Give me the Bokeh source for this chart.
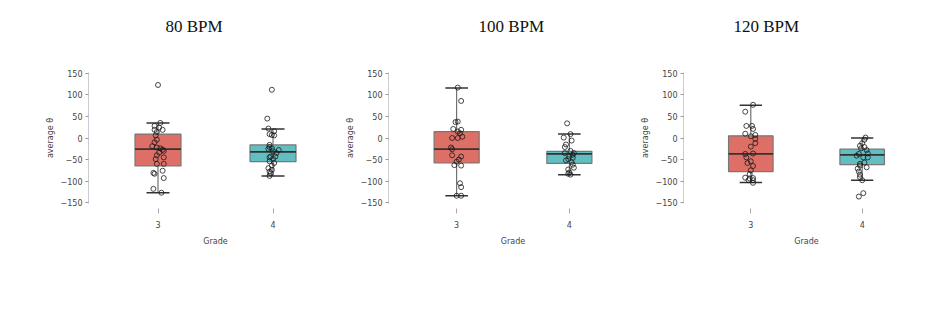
from bokeh.plotting import figure
from bokeh.layouts import row
from bokeh.models import Range1d, FixedTicker, ColumnDataSource, Title
from bokeh.embed import file_html
from bokeh.resources import INLINE

# ---------------- data ----------------
titles = ["80 BPM", "100 BPM", "120 BPM"]
grades = ["3", "4"]
yticks = [-150, -100, -50, 0, 50, 100, 150]

# box statistics [panel][grade]
box_lower = [[-127, -88], [-134, -85], [-103, -98]]
box_q1 = [[-65, -55], [-58, -59], [-78, -62]]
box_med = [[-26, -32], [-26, -37], [-37, -39]]
box_q3 = [[9, -16], [15, -31], [5, -26]]
box_upper = [[35, 21], [116, 9], [76, 0]]

# individual observations (y) and their horizontal jitter offsets (dx)
p80_g3_y = [123, 35, 28, 24, 19, 19, 14, 6, -4, -10, -19, -22, -24, -27, -30, -34, -40, -45, -49, -60, -60, -76, -81, -83, -93, -118, -127]
p80_g3_dx = [0, 0.02, -0.03, 0.01, -0.03, 0.04, -0.01, -0.02, -0.01, -0.03, -0.05, -0.01, 0.02, 0.04, 0.05, 0.01, -0.01, 0.05, -0.02, -0.01, 0.05, 0.04, -0.04, -0.03, 0.05, -0.04, 0.03]
p80_g4_y = [112, 45, 22, 16, 9, 7, 6, -16, -21, -24, -25, -28, -31, -35, -43, -43, -45, -48, -54, -58, -64, -70, -74, -78, -82, -88]
p80_g4_dx = [-0.01, -0.05, -0.04, 0.01, -0.03, -0.01, 0.01, -0.03, -0.03, -0.01, -0.04, 0.05, 0, 0.03, -0.02, 0.02, -0.03, 0, -0.03, 0.01, -0.01, -0.04, -0.01, -0.03, -0.02, -0.03]

p100_g3_y = [117, 86, 37, 38, 21, 19, 15, 11, 0, 0, 3, -22, -26, -40, -43, -50, -55, -63, -64, -105, -114, -134, -134]
p100_g3_dx = [0.01, 0.04, -0.01, 0.01, -0.03, 0.04, 0.01, 0.03, -0.04, 0.01, 0.05, -0.05, -0.04, -0.04, 0.04, 0.02, 0, -0.02, 0.04, 0.03, 0.04, 0, 0.04]
p100_g4_y = [34, 9, 1, -6, -15, -21, -30, -35, -35, -39, -43, -49, -46, -52, -56, -62, -69, -73, -80, -83, -85]
p100_g4_dx = [-0.02, 0.01, -0.05, 0.02, -0.03, -0.04, 0.01, -0.04, 0.04, 0.03, 0, -0.01, 0.03, -0.03, 0.02, 0.03, 0.04, -0.01, 0, -0.01, 0.01]

p120_g3_y = [77, 61, 28, 28, 21, 10, 7, 4, -2, -12, -20, -37, -36, -45, -54, -58, -65, -75, -84, -92, -94, -93, -98, -98, -104]
p120_g3_dx = [0.02, -0.05, -0.04, 0.01, 0.02, -0.05, 0.04, 0, 0.04, 0.04, 0, -0.05, 0.02, -0.04, 0, -0.03, 0.02, 0, -0.01, -0.05, -0.01, 0.02, 0.02, -0.02, 0.02]
p120_g4_y = [1, -4, -12, -18, -21, -24, -28, -37, -41, -36, -45, -45, -57, -60, -64, -68, -71, -78, -85, -91, -98, -136, -128]
p120_g4_dx = [0.03, 0.02, 0, -0.02, 0.02, -0.01, 0.04, -0.03, -0.05, 0.05, 0.01, 0.05, 0.02, -0.02, -0.02, 0.04, -0.04, -0.03, -0.02, -0.02, 0, -0.03, 0.01]

points_y = [[p80_g3_y, p80_g4_y], [p100_g3_y, p100_g4_y], [p120_g3_y, p120_g4_y]]
points_dx = [[p80_g3_dx, p80_g4_dx], [p100_g3_dx, p100_g4_dx], [p120_g3_dx, p120_g4_dx]]

colors = ["#DE6F66", "#63BEC2"]

# ---------------- layout ----------------
FRAME_W = 254
UNIT_PX = 115.0
X_START = -69.5 / UNIT_PX
X_END = X_START + FRAME_W / UNIT_PX
border_left = [88, 41, 38]
border_right = [0, 0, 4]
frame_h = [136, 134, 131]
title_offset = [77, 90, 50]
TOP = 72
FONT = "DejaVu Sans"
FS = "8px"


def make_panel(i):
    w = border_left[i] + FRAME_W + border_right[i]
    p = figure(width=w, height=336, output_backend="svg", toolbar_location=None,
               x_range=Range1d(X_START, X_END), y_range=Range1d(-152, 152),
               min_border_left=border_left[i], min_border_right=border_right[i],
               min_border_top=TOP, min_border_bottom=336 - TOP - frame_h[i],
               tools="", title=None)
    p.outline_line_color = None
    p.xgrid.visible = False
    p.ygrid.visible = False
    p.background_fill_color = "white"
    p.border_fill_color = "white"

    # spacer between the title and the frame, then the title itself
    p.add_layout(Title(text=" ", text_font_size="17px", standoff=16), "above")
    p.add_layout(Title(text=titles[i], text_font="Liberation Serif", text_font_size="17px",
                       text_font_style="normal", text_color="#111111", align="left",
                       offset=title_offset[i], standoff=0), "above")

    pos = list(range(len(grades)))
    src = ColumnDataSource(dict(
        x=pos,
        lower=box_lower[i], q1=box_q1[i], med=box_med[i], q3=box_q3[i], upper=box_upper[i],
        left=[v - 0.2 for v in pos], right=[v + 0.2 for v in pos],
        cl=[v - 0.1 for v in pos], cr=[v + 0.1 for v in pos],
        color=colors,
    ))
    # whiskers
    p.segment(x0="x", x1="x", y0="q3", y1="upper", source=src, line_color="#666666", line_width=1.1)
    p.segment(x0="x", x1="x", y0="q1", y1="lower", source=src, line_color="#666666", line_width=1.1)
    # caps
    p.segment(x0="cl", x1="cr", y0="upper", y1="upper", source=src, line_color="#333333", line_width=1.5)
    p.segment(x0="cl", x1="cr", y0="lower", y1="lower", source=src, line_color="#333333", line_width=1.5)
    # boxes
    p.vbar(x="x", width=0.4, bottom="q1", top="q3", source=src, fill_color="color",
           line_color="#777777", line_width=1.2)
    # medians
    p.segment(x0="left", x1="right", y0="med", y1="med", source=src, line_color="#333333", line_width=1.8)

    # jittered points
    xs, ys = [], []
    for g in pos:
        for yv, dx in zip(points_y[i][g], points_dx[i][g]):
            xs.append(g + dx)
            ys.append(yv)
    p.scatter(x=xs, y=ys, size=5, fill_color=None, line_color="#1a1a1a", line_width=0.8)

    # y axis
    ya = p.yaxis[0]
    ya.ticker = FixedTicker(ticks=yticks)
    ya.minor_tick_line_color = None
    ya.axis_line_color = "#cccccc"
    ya.major_tick_line_color = "#999999"
    ya.major_tick_in = 0
    ya.major_tick_out = 3
    ya.major_label_standoff = 3
    ya.major_label_text_font = FONT
    ya.major_label_text_font_size = FS
    ya.major_label_text_color = "#444444"
    ya.axis_label = "average θ"
    ya.axis_label_text_font = FONT
    ya.axis_label_text_font_size = FS
    ya.axis_label_text_font_style = "normal"
    ya.axis_label_text_color = "#444444"
    ya.axis_label_standoff = 3

    # x axis
    xa = p.xaxis[0]
    xa.ticker = FixedTicker(ticks=pos)
    xa.major_label_overrides = {g: grades[g] for g in pos}
    xa.minor_tick_line_color = None
    xa.axis_line_color = None
    xa.major_tick_line_color = "#aaaaaa"
    xa.major_tick_in = -5
    xa.major_tick_out = 10
    xa.major_label_standoff = 7
    xa.major_label_text_font = FONT
    xa.major_label_text_font_size = FS
    xa.major_label_text_color = "#444444"
    xa.axis_label = "Grade"
    xa.axis_label_text_font = FONT
    xa.axis_label_text_font_size = FS
    xa.axis_label_text_font_style = "normal"
    xa.axis_label_text_color = "#444444"
    xa.axis_label_standoff = 6
    return p


panels = [make_panel(i) for i in range(3)]
layout = row(*panels)
open("out.html", "w").write(file_html(layout, INLINE))
